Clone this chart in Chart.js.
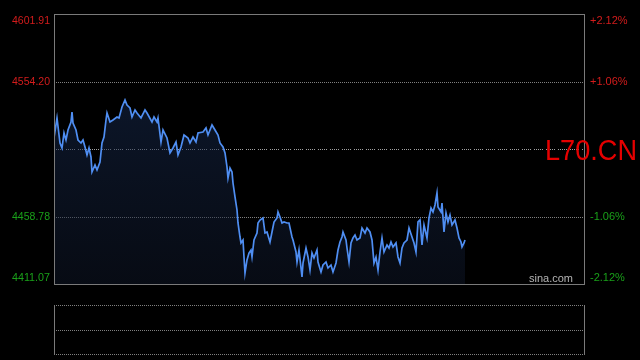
<!DOCTYPE html>
<html><head><meta charset="utf-8">
<script src="https://cdn.jsdelivr.net/npm/chart.js@4.4.1/dist/chart.umd.min.js"></script>
<style>
html,body{margin:0;padding:0;background:#000;width:640px;height:360px;overflow:hidden}
#wrap{position:relative;width:640px;height:360px;background:#000}
canvas{position:absolute;left:0}
#main{top:0}
#vol{top:290px}
</style></head><body>
<div id="wrap"><canvas id="main" width="640" height="290"></canvas><canvas id="vol" width="640" height="70"></canvas></div>
<script>
// ---- data ----
const symbol = 'L70.CN';
const watermark = 'sina.com';
const prevClose = 4506.49;
const priceTicks = [4601.91, 4554.20, 4506.49, 4458.78, 4411.07];
const pctTicks = ['+2.12%', '+1.06%', '', '-1.06%', '-2.12%'];
const sessionLength = 530;
const minutes = [0,3,6,8,10,12,14,17,18,19,22,24,27,29,31,33,35,37,38,41,43,46,48,50,52,53,56,59,63,65,68,71,73,76,78,81,83,87,91,93,98,100,103,104,107,109,113,116,119,122,124,127,130,134,136,139,142,144,149,152,154,158,161,164,166,169,171,173,174,176,178,179,181,183,184,186,187,189,190,191,193,195,197,198,200,203,204,206,209,211,213,216,218,220,223,224,226,228,230,233,235,238,239,242,243,245,248,249,252,254,256,258,260,263,264,267,269,272,274,277,279,282,284,286,288,289,292,293,295,297,299,301,303,306,308,311,313,316,318,320,322,324,326,328,330,333,335,337,339,342,344,346,348,350,353,355,358,360,362,364,366,368,370,373,375,377,379,381,383,384,387,388,390,392,394,396,398,401,403,405,407,408,410,411];
const prices = [4514.27,4528.40,4510.73,4507.20,4517.80,4512.85,4519.92,4525.58,4532.64,4524.87,4519.92,4512.85,4510.73,4512.85,4507.91,4502.25,4507.20,4500.84,4490.23,4495.18,4491.65,4497.30,4510.73,4514.97,4526.99,4531.94,4525.58,4526.99,4529.11,4528.40,4536.18,4541.13,4537.59,4535.47,4529.11,4534.06,4531.94,4528.40,4534.06,4531.94,4525.58,4529.11,4525.58,4528.40,4511.44,4519.92,4514.27,4503.67,4507.20,4511.44,4502.25,4507.91,4516.39,4514.27,4510.73,4514.97,4511.44,4517.80,4518.51,4521.34,4516.39,4523.46,4519.92,4516.39,4510.73,4507.91,4503.67,4493.77,4486.00,4493.06,4490.23,4482.46,4472.57,4463.38,4454.19,4444.29,4440.05,4442.17,4430.16,4418.85,4428.04,4432.98,4435.10,4430.16,4442.17,4447.12,4454.19,4456.31,4457.72,4447.12,4447.83,4440.76,4447.83,4454.90,4457.72,4461.96,4458.43,4454.19,4454.90,4454.19,4454.19,4444.29,4442.17,4433.69,4426.62,4435.10,4416.02,4425.92,4436.51,4430.16,4420.97,4432.98,4429.45,4435.10,4426.62,4419.56,4424.50,4426.62,4422.38,4424.50,4419.56,4425.92,4435.10,4440.76,4444.29,4447.83,4442.17,4436.51,4426.62,4440.05,4443.59,4445.71,4442.17,4443.59,4450.65,4447.12,4450.65,4447.83,4442.17,4425.92,4430.16,4420.97,4433.69,4443.59,4433.69,4438.64,4436.51,4440.76,4437.22,4440.05,4430.16,4425.92,4436.51,4440.05,4442.17,4450.65,4444.29,4440.05,4433.69,4454.90,4456.31,4438.64,4452.77,4443.59,4457.72,4464.79,4461.96,4466.91,4475.39,4465.50,4461.96,4468.32,4447.83,4461.25,4454.90,4459.84,4452.77,4456.31,4450.65,4443.59,4440.76,4437.22,4440.05,4442.17];
const volumeTicks = [0, 1, 2];

// ---- style ----
const FONT = '"Liberation Sans", Arial, sans-serif';
const frameColor = '#7a7a7a';
const gridColor = '#808080';
const upColor = '#d41c1c';
const downColor = '#19a019';
const lineColor = '#4f8ef2';

function hLine(ctx, x0, x1, yy, dash, color) {
  ctx.save();
  ctx.strokeStyle = color; ctx.lineWidth = 1; ctx.setLineDash(dash);
  ctx.beginPath(); ctx.moveTo(x0, yy); ctx.lineTo(x1, yy); ctx.stroke();
  ctx.restore();
}

const quotePlugin = {
  id: 'quote',
  beforeDatasetsDraw(chart) {
    const {ctx, chartArea: a, scales: {y}} = chart;
    priceTicks.forEach((v, i) => {
      if (i === 0 || i === priceTicks.length - 1) return;
      const py = Math.round(y.getPixelForValue(v)) + 0.5;
      if (v === prevClose) hLine(ctx, a.left, a.right, py, [1,1,1,1,1,1,1,1,1,3], '#a0a0a0');
      else hLine(ctx, a.left, a.right, py, [1, 1], gridColor);
    });
  },
  afterDraw(chart) {
    const {ctx, chartArea: a, scales: {y}} = chart;
    ctx.save();
    ctx.strokeStyle = frameColor; ctx.lineWidth = 1; ctx.setLineDash([]);
    ctx.strokeRect(a.left + 0.5, a.top + 0.5, a.right - a.left, a.bottom - a.top);
    ctx.font = '11px ' + FONT;
    ctx.textBaseline = 'middle';
    priceTicks.forEach((v, i) => {
      let py = y.getPixelForValue(v);
      py = Math.max(a.top + 6.5, Math.min(a.bottom - 6, py));
      if (v === prevClose) return;
      ctx.fillStyle = v > prevClose ? upColor : downColor;
      ctx.textAlign = 'right';
      ctx.fillText(v.toFixed(2), a.left - 4, py, 38);
      ctx.textAlign = 'left';
      ctx.fillText(pctTicks[i], a.right + 6, py);
    });
    ctx.fillStyle = '#b4b4b4';
    ctx.textAlign = 'right'; ctx.textBaseline = 'alphabetic';
    ctx.fillText(watermark, a.right - 11, a.bottom - 2);
    ctx.fillStyle = '#e60000';
    ctx.textAlign = 'left';
    ctx.font = '30px ' + FONT;
    ctx.fillText(symbol, 545, Math.round(y.getPixelForValue(prevClose)) + 11, 92);
    ctx.restore();
  }
};

new Chart(document.getElementById('main'), {
  type: 'line',
  data: {
    datasets: [{
      data: minutes.map((m, i) => ({x: m, y: prices[i]})),
      borderColor: lineColor,
      borderWidth: 1.7,
      pointRadius: 0,
      tension: 0,
      fill: 'start',
      backgroundColor: (c) => {
        const a = c.chart.chartArea;
        if (!a) return 'rgba(20,40,75,0.5)';
        const g = c.chart.ctx.createLinearGradient(0, a.top, 0, a.bottom);
        g.addColorStop(0, 'rgba(24,46,88,0.6)');
        g.addColorStop(1, 'rgba(18,28,50,0.4)');
        return g;
      }
    }]
  },
  options: {
    responsive: false, animation: false, devicePixelRatio: 1,
    layout: {padding: {left: 54, right: 56, top: 14, bottom: 6}},
    plugins: {legend: {display: false}, tooltip: {enabled: false}},
    scales: {
      x: {type: 'linear', min: 0, max: sessionLength, display: false},
      y: {type: 'linear', min: priceTicks[priceTicks.length - 1], max: priceTicks[0], display: false}
    }
  },
  plugins: [quotePlugin]
});

const volPlugin = {
  id: 'volframe',
  afterDraw(chart) {
    const {ctx, chartArea: a, scales: {y}} = chart;
    volumeTicks.forEach(v => {
      const py = Math.round(y.getPixelForValue(v)) + 0.5;
      hLine(ctx, a.left, a.right + 1, py, [1, 1], gridColor);
    });
    ctx.save();
    ctx.strokeStyle = frameColor; ctx.lineWidth = 1;
    ctx.beginPath();
    ctx.moveTo(a.left + 0.5, a.top); ctx.lineTo(a.left + 0.5, a.bottom + 1);
    ctx.moveTo(a.right + 0.5, a.top); ctx.lineTo(a.right + 0.5, a.bottom + 1);
    ctx.stroke();
    ctx.restore();
  }
};

new Chart(document.getElementById('vol'), {
  type: 'bar',
  data: {datasets: [{data: []}]},
  options: {
    responsive: false, animation: false, devicePixelRatio: 1,
    layout: {padding: {left: 54, right: 56, top: 15, bottom: 6}},
    plugins: {legend: {display: false}, tooltip: {enabled: false}},
    scales: {
      x: {type: 'linear', min: 0, max: sessionLength, display: false},
      y: {type: 'linear', min: volumeTicks[0], max: volumeTicks[volumeTicks.length - 1], display: false}
    }
  },
  plugins: [volPlugin]
});
</script>
</body></html>
